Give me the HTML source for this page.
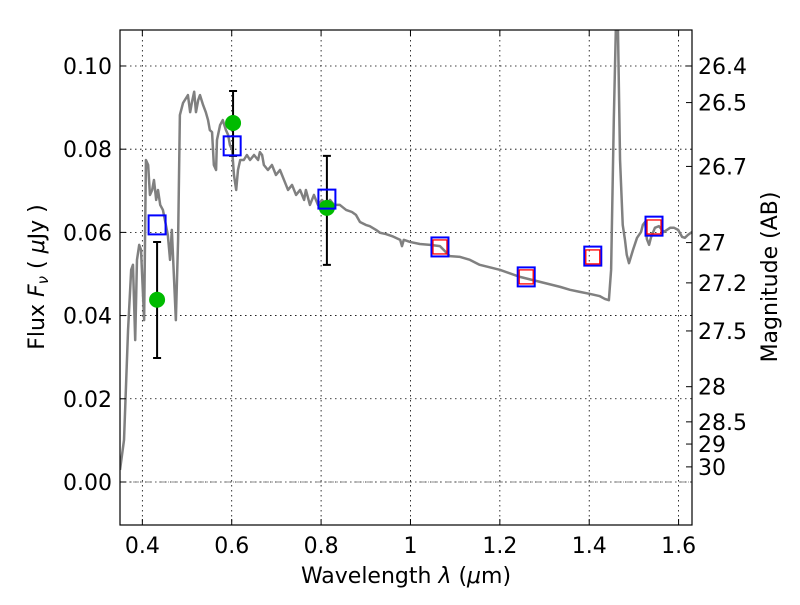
<!DOCTYPE html>
<html><head><meta charset="utf-8"><style>
body{margin:0;background:#fff}
svg text{font-family:"DejaVu Sans","Liberation Sans",sans-serif;fill:#000}
</style></head><body>
<svg id="chart" width="800" height="600" xmlns="http://www.w3.org/2000/svg">
<defs><clipPath id="clip"><rect x="120" y="30" width="572" height="495"/></clipPath></defs>
<g id="grid"></g>
<g id="plot" clip-path="url(#clip)"></g>
<rect x="120" y="30" width="572" height="495" fill="none" stroke="#000" stroke-width="1.2"/>
<g id="axes"></g>
<text x="406" y="583" font-size="22" text-anchor="middle">Wavelength  <tspan font-style="italic">λ</tspan> (<tspan font-style="italic">μ</tspan>m)</text>
<text transform="translate(44,277) rotate(-90)" font-size="22" text-anchor="middle">Flux  <tspan font-style="italic">F</tspan><tspan font-style="italic" font-size="15" dy="4">ν</tspan><tspan dy="-4">  ( </tspan><tspan font-style="italic">μ</tspan>Jy )</text>
<text transform="translate(777,277) rotate(-90)" font-size="22" text-anchor="middle">Magnitude (AB)</text>
</svg>
<script>
const specWave=[0.350,0.359,0.368,0.375,0.379,0.384,0.388,0.393,0.397,0.401,0.404,0.408,0.413,0.417,0.422,0.426,0.431,0.435,0.440,0.446,0.457,0.462,0.466,0.471,0.475,0.480,0.484,0.491,0.495,0.502,0.507,0.511,0.516,0.520,0.525,0.529,0.536,0.542,0.547,0.551,0.556,0.560,0.565,0.567,0.574,0.580,0.587,0.592,0.596,0.601,0.605,0.610,0.614,0.619,0.627,0.634,0.641,0.650,0.659,0.663,0.668,0.672,0.681,0.690,0.699,0.708,0.717,0.726,0.735,0.744,0.753,0.762,0.766,0.775,0.784,0.793,0.802,0.811,0.820,0.829,0.842,0.856,0.869,0.878,0.887,0.900,0.909,0.923,0.932,0.945,0.959,0.977,0.981,0.985,0.999,1.021,1.044,1.066,1.088,1.111,1.133,1.155,1.200,1.245,1.290,1.335,1.357,1.379,1.402,1.423,1.435,1.444,1.449,1.451,1.455,1.460,1.464,1.469,1.475,1.480,1.484,1.489,1.498,1.507,1.516,1.520,1.525,1.529,1.534,1.538,1.547,1.556,1.567,1.581,1.590,1.599,1.608,1.614,1.621,1.630];
const specFlux=[0.0029,0.0101,0.0365,0.0510,0.0522,0.0341,0.0534,0.0570,0.0558,0.0462,0.0389,0.0774,0.0762,0.0690,0.0702,0.0726,0.0678,0.0702,0.0666,0.0654,0.0594,0.0534,0.0606,0.0486,0.0389,0.0582,0.0882,0.0911,0.0918,0.0930,0.0889,0.0913,0.0938,0.0889,0.0918,0.0930,0.0906,0.0889,0.0870,0.0846,0.0841,0.0762,0.0750,0.0822,0.0858,0.0870,0.0846,0.0834,0.0810,0.0798,0.0738,0.0702,0.0750,0.0774,0.0774,0.0786,0.0774,0.0786,0.0774,0.0793,0.0786,0.0762,0.0750,0.0762,0.0738,0.0750,0.0726,0.0702,0.0714,0.0690,0.0702,0.0678,0.0702,0.0666,0.0690,0.0666,0.0678,0.0666,0.0678,0.0666,0.0666,0.0654,0.0649,0.0642,0.0625,0.0618,0.0615,0.0606,0.0599,0.0596,0.0591,0.0582,0.0567,0.0582,0.0577,0.0572,0.0570,0.0567,0.0543,0.0541,0.0534,0.0522,0.0510,0.0493,0.0481,0.0469,0.0462,0.0457,0.0452,0.0447,0.0440,0.0437,0.0510,0.0630,0.0870,0.111,0.111,0.0774,0.0618,0.0582,0.0546,0.0526,0.0558,0.0587,0.0601,0.0618,0.0625,0.0584,0.0570,0.0587,0.0611,0.0615,0.0601,0.0611,0.0611,0.0606,0.0589,0.0587,0.0594,0.0601];
const photWave=[0.433,0.601,0.813,1.066,1.259,1.408,1.545];
const modelFlux=[0.0618,0.0808,0.0680,0.0565,0.0493,0.0543,0.0615];
const redWave=[1.066,1.259,1.408,1.545];
const redFlux=[0.0565,0.0493,0.0541,0.0613];
const obsWave=[0.433,0.603,0.813];
const obsFlux=[0.0438,0.0863,0.0659];
const obsLow=[0.0298,0.0784,0.0522];
const obsHigh=[0.0577,0.0940,0.0784];
const xTicks=[0.4,0.6,0.8,1.0,1.2,1.4,1.6];
const xTickLabels=["0.4","0.6","0.8","1","1.2","1.4","1.6"];
const yTicks=[0,0.02,0.04,0.06,0.08,0.10];
const yTickLabels=["0.00","0.02","0.04","0.06","0.08","0.10"];
const magTicks=[26.4,26.5,26.7,27,27.2,27.5,28,28.5,29,30];
const magTickLabels=["26.4","26.5","26.7","27","27.2","27.5","28","28.5","29","30"];

const X0=0.35,X1=1.63,Y0=-0.01034,Y1=0.10865,L=120,R=692,T=30,B=525;
const sx=v=>L+(v-X0)/(X1-X0)*(R-L);
const sy=v=>B-(v-Y0)/(Y1-Y0)*(B-T);
const NS="http://www.w3.org/2000/svg";
function mk(tag,attrs,parent){const e=document.createElementNS(NS,tag);for(const k in attrs)e.setAttribute(k,attrs[k]);parent.appendChild(e);return e;}
const grid=document.getElementById('grid'),plot=document.getElementById('plot'),axes=document.getElementById('axes');
xTicks.forEach((t,i)=>{
  const g=mk('line',{x1:sx(t),x2:sx(t),y1:T,y2:B,stroke:'#000','stroke-dasharray':'1.5,3.5','stroke-width':0.8},grid);
  
  
  [[B,B-6],[T,T+6]].forEach(p=>{const tk=mk('line',{x1:sx(t),x2:sx(t),y1:p[0],y2:p[1],stroke:'#000'},axes);
    
    });
  const tx=mk('text',{x:sx(t),y:553,'font-size':22,'text-anchor':'middle'},axes);tx.textContent=xTickLabels[i];
  
  
});
yTicks.forEach((t,i)=>{
  const g=mk('line',{x1:L,x2:R,y1:sy(t),y2:sy(t),stroke:'#000','stroke-dasharray':'1.5,3.5','stroke-width':0.8},grid);
  
  
  const tk=mk('line',{x1:L,x2:L+6,y1:sy(t),y2:sy(t),stroke:'#000'},axes);
  
  
  const tx=mk('text',{x:112,y:sy(t)+8,'font-size':22,'text-anchor':'end'},axes);tx.textContent=yTickLabels[i];
  
  
});
magTicks.forEach((m,i)=>{
  const f=Math.pow(10,(23.9-m)/2.5);const y=sy(f);
  const tk=mk('line',{x1:R,x2:R-6,y1:y,y2:y,stroke:'#000'},axes);
  
  
  const tx=mk('text',{x:698,y:y+8,'font-size':22},axes);tx.textContent=magTickLabels[i];
  
  
});
const zl=mk('line',{x1:L,x2:R,y1:sy(0),y2:sy(0),stroke:'#666','stroke-dasharray':'6,3,1,3','stroke-width':0.8},plot);


const sp=mk('polyline',{points:specWave.map((w,i)=>sx(w)+','+sy(specFlux[i])).join(' '),fill:'none',stroke:'#808080','stroke-width':2.5,'stroke-linejoin':'round'},plot);


obsWave.forEach((w,i)=>{
  const x=sx(w);
  const e=mk('path',{d:`M${x},${sy(obsLow[i])}V${sy(obsHigh[i])}M${x-4},${sy(obsLow[i])}h8M${x-4},${sy(obsHigh[i])}h8`,stroke:'#000','stroke-width':2,fill:'none'},plot);
  
  
  const c=mk('circle',{cx:x,cy:sy(obsFlux[i]),r:8,fill:'#00bb00'},plot);
  
  
});
photWave.forEach((w,i)=>{
  const r=mk('rect',{x:sx(w)-8.5,y:sy(modelFlux[i])-9.5,width:17,height:19,fill:'none',stroke:'#0000ff','stroke-width':2},plot);
  
  
});
redWave.forEach((w,i)=>{
  const r=mk('rect',{x:sx(w)-7,y:sy(redFlux[i])-7,width:14,height:14,fill:'none',stroke:'#ff0000','stroke-width':1.3},plot);
  
  
});
</script>
</body></html>
